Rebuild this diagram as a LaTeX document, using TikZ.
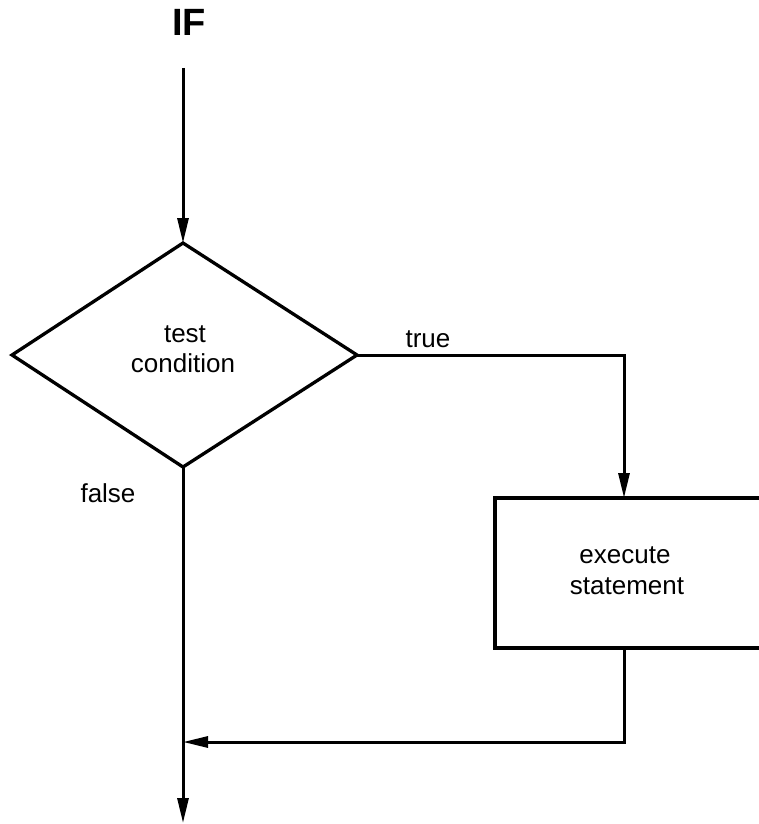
\documentclass[tikz,border=0pt]{standalone}
\usepackage{fontspec}
\setmainfont{Liberation Sans}
\usetikzlibrary{arrows.meta}
\begin{document}
\begin{tikzpicture}[x=1pt,y=-1pt,
  line/.style={line width=3pt, line join=miter},
  flow/.style={line, -{Triangle[length=25pt,width=11pt]}},
  lbl/.style={font=\fontsize{26}{30}\selectfont, anchor=base, inner sep=0pt},
  shapeline/.style={line width=3.3pt, line join=miter}]
  \useasboundingbox (0,0) rectangle (758,824);

  % title
  \node[inner sep=0pt, font=\fontsize{38}{44}\selectfont\bfseries] (title) at (189,22) {IF};

  % decision diamond
  \coordinate (dtop) at (183,243);
  \coordinate (dleft) at (12,355);
  \coordinate (dright) at (357,355);
  \coordinate (dbot) at (183,467);
  \draw[shapeline] (dtop) -- (dright) -- (dbot) -- (dleft) -- cycle;
  \node[lbl] (cond1) at (185,342) {test};
  \node[lbl] (cond2) at (183,372) {condition};

  % statement box, running off the right edge
  \coordinate (btl) at (495,498);
  \coordinate (bbl) at (495,648);
  \coordinate (btr) at (762,498);
  \coordinate (bbr) at (762,648);
  \draw[shapeline] (btr) -- (btl) -- (bbl) -- (bbr);
  \node[lbl] (stmt1) at (625,563) {execute};
  \node[lbl] (stmt2) at (627,594) {statement};

  % connectors
  \coordinate (start) at (183,68);
  \coordinate (tcorner) at (624,355);
  \coordinate (btop) at (624,498);
  \coordinate (bbot) at (624,648);
  \coordinate (rcorner) at (624,742);
  \coordinate (join) at (183,742);
  \coordinate (finish) at (183,823);

  \draw[flow] (start) -- (dtop);
  \draw[flow] (dright) -- (tcorner) -- (btop);
  \draw[flow] (bbot) -- (rcorner) -- (join);
  \draw[flow] (dbot) -- (finish);

  % branch labels
  \node[lbl] (true) at (428,347) {true};
  \node[lbl] (false) at (108,502) {false};
\end{tikzpicture}
\end{document}
